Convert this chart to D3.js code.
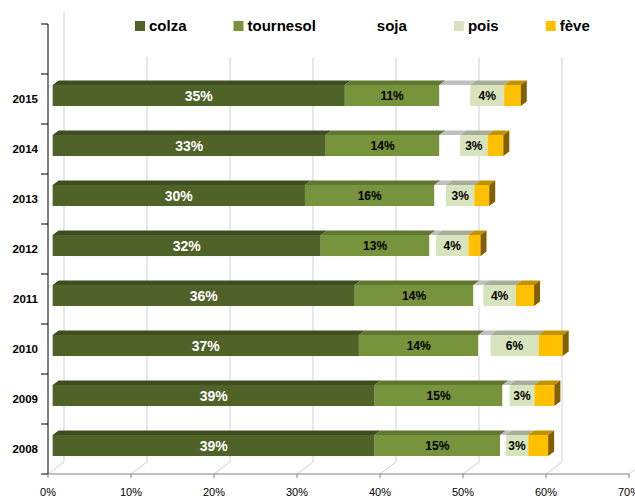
<!DOCTYPE html>
<html><head><meta charset="utf-8">
<script src="https://cdn.jsdelivr.net/npm/d3@7"></script>
<style>body{margin:0;background:#fff}svg{display:block}text{font-family:"Liberation Sans",Arial,sans-serif}</style>
</head><body>
<script>
const years = ["2008","2009","2010","2011","2012","2013","2014","2015"];
const seriesNames = ["colza","tournesol","soja","pois","fève"];
const colza     = [38.8, 38.8, 36.9, 36.4, 32.3, 30.4, 32.9, 35.2];
const tournesol = [15.1, 15.4, 14.4, 14.3, 13.1, 15.6, 13.7, 11.4];
const soja      = [0.7, 0.85, 1.45, 1.2, 0.8, 1.4, 2.5, 3.7];
const pois      = [2.7, 3.0, 5.8, 3.9, 3.9, 3.4, 3.3, 4.1];
const feve      = [2.4, 2.4, 2.9, 2.2, 1.45, 1.8, 1.9, 2.0];
const xTicks = [0,10,20,30,40,50,60,70];

const series = [colza, tournesol, soja, pois, feve];
const front = ["#4f6228","#77933c","#ffffff","#d7e4bd","#ffc000"];
const topC  = ["#3f4e20","#5f7731","#c0c0c0","#a7ae98","#c39200"];
const sideC = ["#2f3a18","#4a5c26","#a0a0a0","#8a9080","#806000"];
const labelStyle = [{fill:"#fff",size:14},{fill:"#000",size:12},null,{fill:"#000",size:12},null];

const W=635,H=496;
const svg = d3.select("body").append("svg").attr("width",W).attr("height",H);
const x = d3.scaleLinear().domain([0,70]).range([48,629]);
const y = d3.scaleBand().domain(years.slice().reverse()).range([74,474]);
const DX=16, DY=12, dF=0.29, dB=0.665, barH=21;
const P = (v,yy,d)=>[x(v)+d*DX, yy-d*DY];
const poly = pts => pts.map(p=>p.join(",")).join(" ");

// back wall gridlines & floor
const grid = svg.append("g");
xTicks.forEach(t=>{
  grid.append("line").attr("x1",x(t)+DX).attr("x2",x(t)+DX).attr("y1",12).attr("y2",474-DY)
    .attr("stroke","#d0d0d0").attr("stroke-width",1);
  grid.append("line").attr("x1",x(t)).attr("y1",474).attr("x2",x(t)+DX).attr("y2",474-DY)
    .attr("stroke","#d0d0d0").attr("stroke-width",1);
});

// legend background
svg.append("rect").attr("x",120).attr("y",10).attr("width",W-120).attr("height",47).attr("fill","#fff");

// bars
const bars = svg.append("g");
years.forEach((yr,i)=>{
  const yc = y(yr)+y.bandwidth()/2, yt = yc-barH/2, yb = yc+barH/2;
  let acc = 0;
  series.forEach((s,k)=>{
    const v0 = acc, v1 = acc + s[i]; acc = v1;
    bars.append("polygon").attr("points",poly([P(v0,yt,dF),P(v1,yt,dF),P(v1,yt,dB),P(v0,yt,dB)])).attr("fill",topC[k]);
    const a = P(v0,yt,dF), b = P(v1,yb,dF);
    bars.append("rect").attr("x",a[0]).attr("y",a[1]).attr("width",b[0]-a[0]).attr("height",b[1]-a[1]).attr("fill",front[k]);
    if(k===series.length-1){
      bars.append("polygon").attr("points",poly([P(v1,yt,dF),P(v1,yt,dB),P(v1,yb,dB),P(v1,yb,dF)])).attr("fill",sideC[k]);
    }
    const ls = labelStyle[k];
    if(ls){
      const c = P((v0+v1)/2, yc, dF);
      bars.append("text").attr("x",c[0]).attr("y",c[1]).attr("dy","0.36em").attr("text-anchor","middle")
        .attr("font-weight","bold").attr("font-size",ls.size).attr("fill",ls.fill).text(Math.round(s[i])+"%");
    }
  });
});

// axes
const ax = svg.append("g");
ax.append("line").attr("x1",48).attr("x2",48).attr("y1",24).attr("y2",474).attr("stroke","#000");
const bounds = [y.range()[0]-y.step()].concat(years.slice().reverse().map(yr=>y(yr)+y.bandwidth()));
[y.range()[0]-y.step(), y.range()[0]].concat(years.map(yr=>y(yr)+y.bandwidth())).forEach(v=>{
  ax.append("line").attr("x1",41).attr("x2",48).attr("y1",v).attr("y2",v).attr("stroke","#000");
});
years.forEach(yr=>{
  ax.append("text").attr("x",38).attr("y",y(yr)+y.bandwidth()/2).attr("dy","0.36em").attr("text-anchor","end")
    .attr("font-weight","bold").attr("font-size",11.5).attr("fill","#000").text(yr);
});
ax.append("line").attr("x1",48).attr("x2",x(70)).attr("y1",474).attr("y2",474).attr("stroke","#808080");
xTicks.forEach(t=>{
  ax.append("line").attr("x1",x(t)).attr("x2",x(t)).attr("y1",474).attr("y2",478).attr("stroke","#808080");
  ax.append("text").attr("x",x(t)).attr("y",495.5).attr("text-anchor","middle").attr("font-size",11).attr("fill","#000").text(t+"%");
});

// legend
const lg = svg.append("g");
let lx = 135;
seriesNames.forEach((n,k)=>{
  lg.append("rect").attr("x",lx).attr("y",21).attr("width",10).attr("height",10).attr("fill",front[k]);
  const t = lg.append("text").attr("x",lx+14).attr("y",31).attr("font-weight","bold").attr("font-size",15).attr("fill","#000").text(n);
  lx += 14 + t.node().getComputedTextLength() + 47;
});
</script>
</body></html>
